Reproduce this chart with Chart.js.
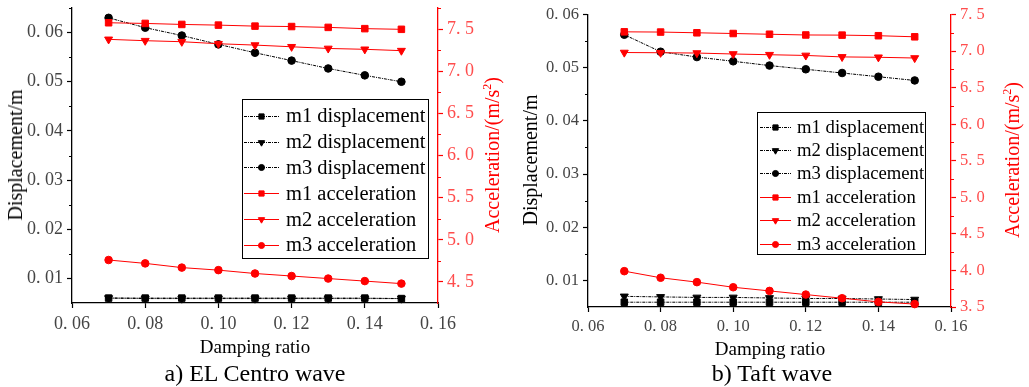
<!DOCTYPE html>
<html>
<head>
<meta charset="utf-8">
<script src="https://cdn.jsdelivr.net/npm/chart.js@4.4.1/dist/chart.umd.min.js"></script>
<style>
  body { margin:0; width:1029px; height:387px; background:#fff; position:relative; overflow:hidden;
         font-family:"Liberation Serif", "DejaVu Serif", serif; color:#000; }
  canvas.chart { position:absolute; top:0; }
  .lbl { position:absolute; white-space:nowrap; transform:translate(-50%,-50%); line-height:1; }
  .rot { transform:translate(-50%,-50%) rotate(-90deg); }
  .red { color:#ff0000; }
  sup { font-size:0.6em; vertical-align:0.65em; line-height:0; }
  .legend { position:absolute; border:1.5px solid #000; background:#fff; box-sizing:border-box; }
  .legend .row { display:flex; align-items:center; white-space:nowrap; }
  .legend canvas { display:block; }
</style>
</head>
<body>
<canvas class="chart" id="elChart" width="510" height="387" style="left:0"></canvas>
<canvas class="chart" id="taftChart" width="519" height="387" style="left:510px"></canvas>

<div class="lbl rot" style="left:15px;top:155px;font-size:20px">Displacement/m</div>
<div class="lbl rot red" style="left:492px;top:155px;font-size:20px">Acceleration/(m/s<sup>2</sup>)</div>
<div class="lbl" style="left:255px;top:346px;font-size:19px">Damping ratio</div>
<div class="lbl" style="left:255px;top:373px;font-size:24px">a) EL Centro wave</div>

<div class="lbl rot" style="left:530px;top:160px;font-size:20px">Displacement/m</div>
<div class="lbl rot red" style="left:1012px;top:160px;font-size:20px">Acceleration/(m/s<sup>2</sup>)</div>
<div class="lbl" style="left:770px;top:348px;font-size:19px">Damping ratio</div>
<div class="lbl" style="left:772px;top:373px;font-size:24px">b) Taft wave</div>

<div class="legend" id="elLegend" style="left:242px;top:99px;width:187px;height:160px;padding-top:3px"></div>
<div class="legend" id="taftLegend" style="left:757px;top:112px;width:169px;height:143px;padding-top:2px"></div>

<script>
const dampingRatio = [0.07, 0.08, 0.09, 0.10, 0.11, 0.12, 0.13, 0.14, 0.15];
const xTicks = [0.06, 0.08, 0.10, 0.12, 0.14, 0.16];
const seriesNames = ['m1 displacement', 'm2 displacement', 'm3 displacement',
                     'm1 acceleration', 'm2 acceleration', 'm3 acceleration'];

// a) EL Centro wave
const elM1Disp = [0.0060, 0.0060, 0.0060, 0.0060, 0.0060, 0.0060, 0.0060, 0.0060, 0.0059];
const elM2Disp = [0.0060, 0.0059, 0.0059, 0.0059, 0.0059, 0.0059, 0.0059, 0.0059, 0.0059];
const elM3Disp = [0.0630, 0.0610, 0.0594, 0.0576, 0.0559, 0.0543, 0.0527, 0.0513, 0.0500];
const elM1Acc = [7.575, 7.567, 7.555, 7.547, 7.535, 7.530, 7.520, 7.505, 7.497];
const elM2Acc = [7.378, 7.362, 7.350, 7.326, 7.310, 7.290, 7.270, 7.260, 7.244];
const elM3Acc = [4.76, 4.72, 4.67, 4.64, 4.60, 4.57, 4.54, 4.51, 4.48];
const elDispTicks = [0.01, 0.02, 0.03, 0.04, 0.05, 0.06];
const elDispMinor = [0.015, 0.025, 0.035, 0.045, 0.055, 0.065];
const elAccTicks = [4.5, 5.0, 5.5, 6.0, 6.5, 7.0, 7.5];
const elAccMinor = [4.75, 5.25, 5.75, 6.25, 6.75, 7.25, 7.75];

// b) Taft wave
const taftM1Disp = [0.0059, 0.0059, 0.0059, 0.0059, 0.0059, 0.0059, 0.0059, 0.0059, 0.0059];
const taftM2Disp = [0.0070, 0.0069, 0.0068, 0.0068, 0.0067, 0.0066, 0.0066, 0.0065, 0.0064];
const taftM3Disp = [0.0562, 0.0530, 0.0520, 0.0512, 0.0504, 0.0497, 0.0490, 0.0483, 0.0476];
const taftM1Acc = [7.263, 7.260, 7.250, 7.240, 7.230, 7.220, 7.218, 7.210, 7.195];
const taftM2Acc = [6.980, 6.977, 6.973, 6.960, 6.950, 6.940, 6.920, 6.915, 6.905];
const taftM3Acc = [3.99, 3.90, 3.84, 3.77, 3.72, 3.67, 3.62, 3.57, 3.54];
const taftDispTicks = [0.01, 0.02, 0.03, 0.04, 0.05, 0.06];
const taftDispMinor = [0.015, 0.025, 0.035, 0.045, 0.055];
const taftAccTicks = [3.5, 4.0, 4.5, 5.0, 5.5, 6.0, 6.5, 7.0, 7.5];
const taftAccMinor = [3.75, 4.25, 4.75, 5.25, 5.75, 6.25, 6.75, 7.25];

const RED = '#ff0000';
const DASHDOT = [3, 1, 1, 1];
// marker / line look per series, same order as seriesNames
const looks = [
  { color: '#000', style: 'rect', radius: 4.6, rotation: 0, dash: DASHDOT, axis: 'y' },
  { color: '#000', style: 'triangle', radius: 4.6, rotation: 180, dash: DASHDOT, axis: 'y' },
  { color: '#000', style: 'circle', radius: 3.8, rotation: 0, dash: DASHDOT, axis: 'y' },
  { color: RED, style: 'rect', radius: 4.6, rotation: 0, dash: [], axis: 'y1' },
  { color: RED, style: 'triangle', radius: 4.6, rotation: 180, dash: [], axis: 'y1' },
  { color: RED, style: 'circle', radius: 3.8, rotation: 0, dash: [], axis: 'y1' }
];

const fmt = d => v => v.toFixed(d).replace('.', '. ');

// short minor ticks on the two y axes
const minorTicks = {
  id: 'minorTicks',
  afterDraw(chart, args, opts) {
    const ctx = chart.ctx;
    for (const [id, vals] of Object.entries(opts.sets || {})) {
      const s = chart.scales[id];
      ctx.save();
      ctx.strokeStyle = id === 'y1' ? RED : '#000';
      ctx.lineWidth = 1.2;
      ctx.beginPath();
      vals.forEach(v => {
        const p = Math.round(s.getPixelForValue(v)) + 0.5;
        if (s.position === 'left') { ctx.moveTo(s.right, p); ctx.lineTo(s.right - 3, p); }
        else { ctx.moveTo(s.left, p); ctx.lineTo(s.left + 3, p); }
      });
      ctx.stroke();
      ctx.restore();
    }
  }
};

function fixBox(size, key) {
  return s => {
    s[key] = size;
    s.paddingTop = 0; s.paddingBottom = 0; s.paddingLeft = 0; s.paddingRight = 0;
  };
}

function buildChart(id, c) {
  const series = [c.m1Disp, c.m2Disp, c.m3Disp, c.m1Acc, c.m2Acc, c.m3Acc];
  const datasets = series.map((vals, i) => ({
    label: seriesNames[i],
    data: dampingRatio.map((x, j) => ({ x: x, y: vals[j] })),
    yAxisID: looks[i].axis,
    borderColor: looks[i].color,
    backgroundColor: looks[i].color,
    borderWidth: 1,
    borderDash: looks[i].dash,
    pointStyle: looks[i].style,
    pointRotation: looks[i].rotation,
    pointRadius: looks[i].radius,
    pointBorderWidth: 1,
    pointBorderColor: looks[i].color,
    pointBackgroundColor: looks[i].color,
    tension: 0,
    clip: false,
    order: looks[i].axis === 'y1' ? 0 : 1
  }));

  const tickFont = { family: '"Liberation Serif", serif', size: c.tickSize };
  const grid = col => ({ drawOnChartArea: false, drawTicks: true, tickLength: 5, tickColor: col, tickWidth: 1.2 });

  return new Chart(document.getElementById(id), {
    type: 'line',
    data: { datasets: datasets },
    options: {
      responsive: false,
      animation: false,
      devicePixelRatio: 1,
      layout: { padding: { top: c.top, left: 0, right: 0, bottom: 0 } },
      plugins: {
        legend: { display: false },
        tooltip: { enabled: false },
        minorTicks: { sets: { y: c.dispMinor, y1: c.accMinor } }
      },
      scales: {
        x: {
          type: 'linear', min: 0.06, max: 0.16,
          afterBuildTicks: s => { s.ticks = xTicks.map(v => ({ value: v })); },
          afterFit: fixBox(c.xH, 'height'),
          ticks: { callback: fmt(2), font: tickFont, color: '#444', padding: 5, autoSkip: false, maxRotation: 0 },
          grid: grid('#000'),
          border: { display: true, color: '#000', width: 1.3 }
        },
        y: {
          type: 'linear', position: 'left', min: c.dispMin, max: c.dispMax,
          afterBuildTicks: s => { s.ticks = c.dispTicks.map(v => ({ value: v })); },
          afterFit: fixBox(c.yW, 'width'),
          ticks: { callback: fmt(2), font: tickFont, color: '#444', padding: 4, autoSkip: false },
          grid: grid('#000'),
          border: { display: true, color: '#000', width: 1.3 }
        },
        y1: {
          type: 'linear', position: 'right', min: c.accMin, max: c.accMax,
          afterBuildTicks: s => { s.ticks = c.accTicks.map(v => ({ value: v })); },
          afterFit: fixBox(c.y1W, 'width'),
          ticks: { callback: fmt(1), font: tickFont, color: '#ff4d4d', padding: 4, autoSkip: false },
          grid: grid(RED),
          border: { display: true, color: RED, width: 1.3 }
        }
      }
    },
    plugins: [minorTicks]
  });
}

function buildLegend(elId, chart, o) {
  const box = document.getElementById(elId);
  chart.data.datasets.forEach((ds, i) => {
    const row = document.createElement('div');
    row.className = 'row';
    row.style.height = o.rowH + 'px';
    const cv = document.createElement('canvas');
    cv.width = o.sampleW; cv.height = 14;
    cv.style.marginLeft = o.sampleX + 'px';
    cv.style.marginRight = o.gap + 'px';
    const ctx = cv.getContext('2d');
    ctx.strokeStyle = looks[i].color;
    ctx.fillStyle = looks[i].color;
    ctx.lineWidth = 1;
    ctx.setLineDash(looks[i].dash);
    ctx.beginPath(); ctx.moveTo(0, 7.5); ctx.lineTo(o.sampleW, 7.5); ctx.stroke();
    ctx.setLineDash([]);
    Chart.helpers.drawPoint(ctx, { pointStyle: looks[i].style, rotation: looks[i].rotation,
      radius: looks[i].radius * 0.8, borderWidth: 1 }, o.sampleW / 2, 7.5);
    const txt = document.createElement('span');
    txt.textContent = ds.label;
    txt.style.fontSize = o.fontSize + 'px';
    row.appendChild(cv); row.appendChild(txt);
    box.appendChild(row);
  });
}

const elChart = buildChart('elChart', {
  m1Disp: elM1Disp, m2Disp: elM2Disp, m3Disp: elM3Disp,
  m1Acc: elM1Acc, m2Acc: elM2Acc, m3Acc: elM3Acc,
  dispMin: 0.005, dispMax: 0.065, dispTicks: elDispTicks, dispMinor: elDispMinor,
  accMin: 4.25, accMax: 7.75, accTicks: elAccTicks, accMinor: elAccMinor,
  top: 8, xH: 84, yW: 72, y1W: 72, tickSize: 18
});

const taftChart = buildChart('taftChart', {
  m1Disp: taftM1Disp, m2Disp: taftM2Disp, m3Disp: taftM3Disp,
  m1Acc: taftM1Acc, m2Acc: taftM2Acc, m3Acc: taftM3Acc,
  dispMin: 0.005, dispMax: 0.06, dispTicks: taftDispTicks, dispMinor: taftDispMinor,
  accMin: 3.5, accMax: 7.5, accTicks: taftAccTicks, accMinor: taftAccMinor,
  top: 14.5, xH: 80, yW: 78, y1W: 78, tickSize: 16.5
});

buildLegend('elLegend', elChart, { rowH: 25.8, sampleX: 1, sampleW: 35, gap: 7, fontSize: 20.5 });
buildLegend('taftLegend', taftChart, { rowH: 23.4, sampleX: 2, sampleW: 31, gap: 6, fontSize: 18.7 });
</script>
</body>
</html>
